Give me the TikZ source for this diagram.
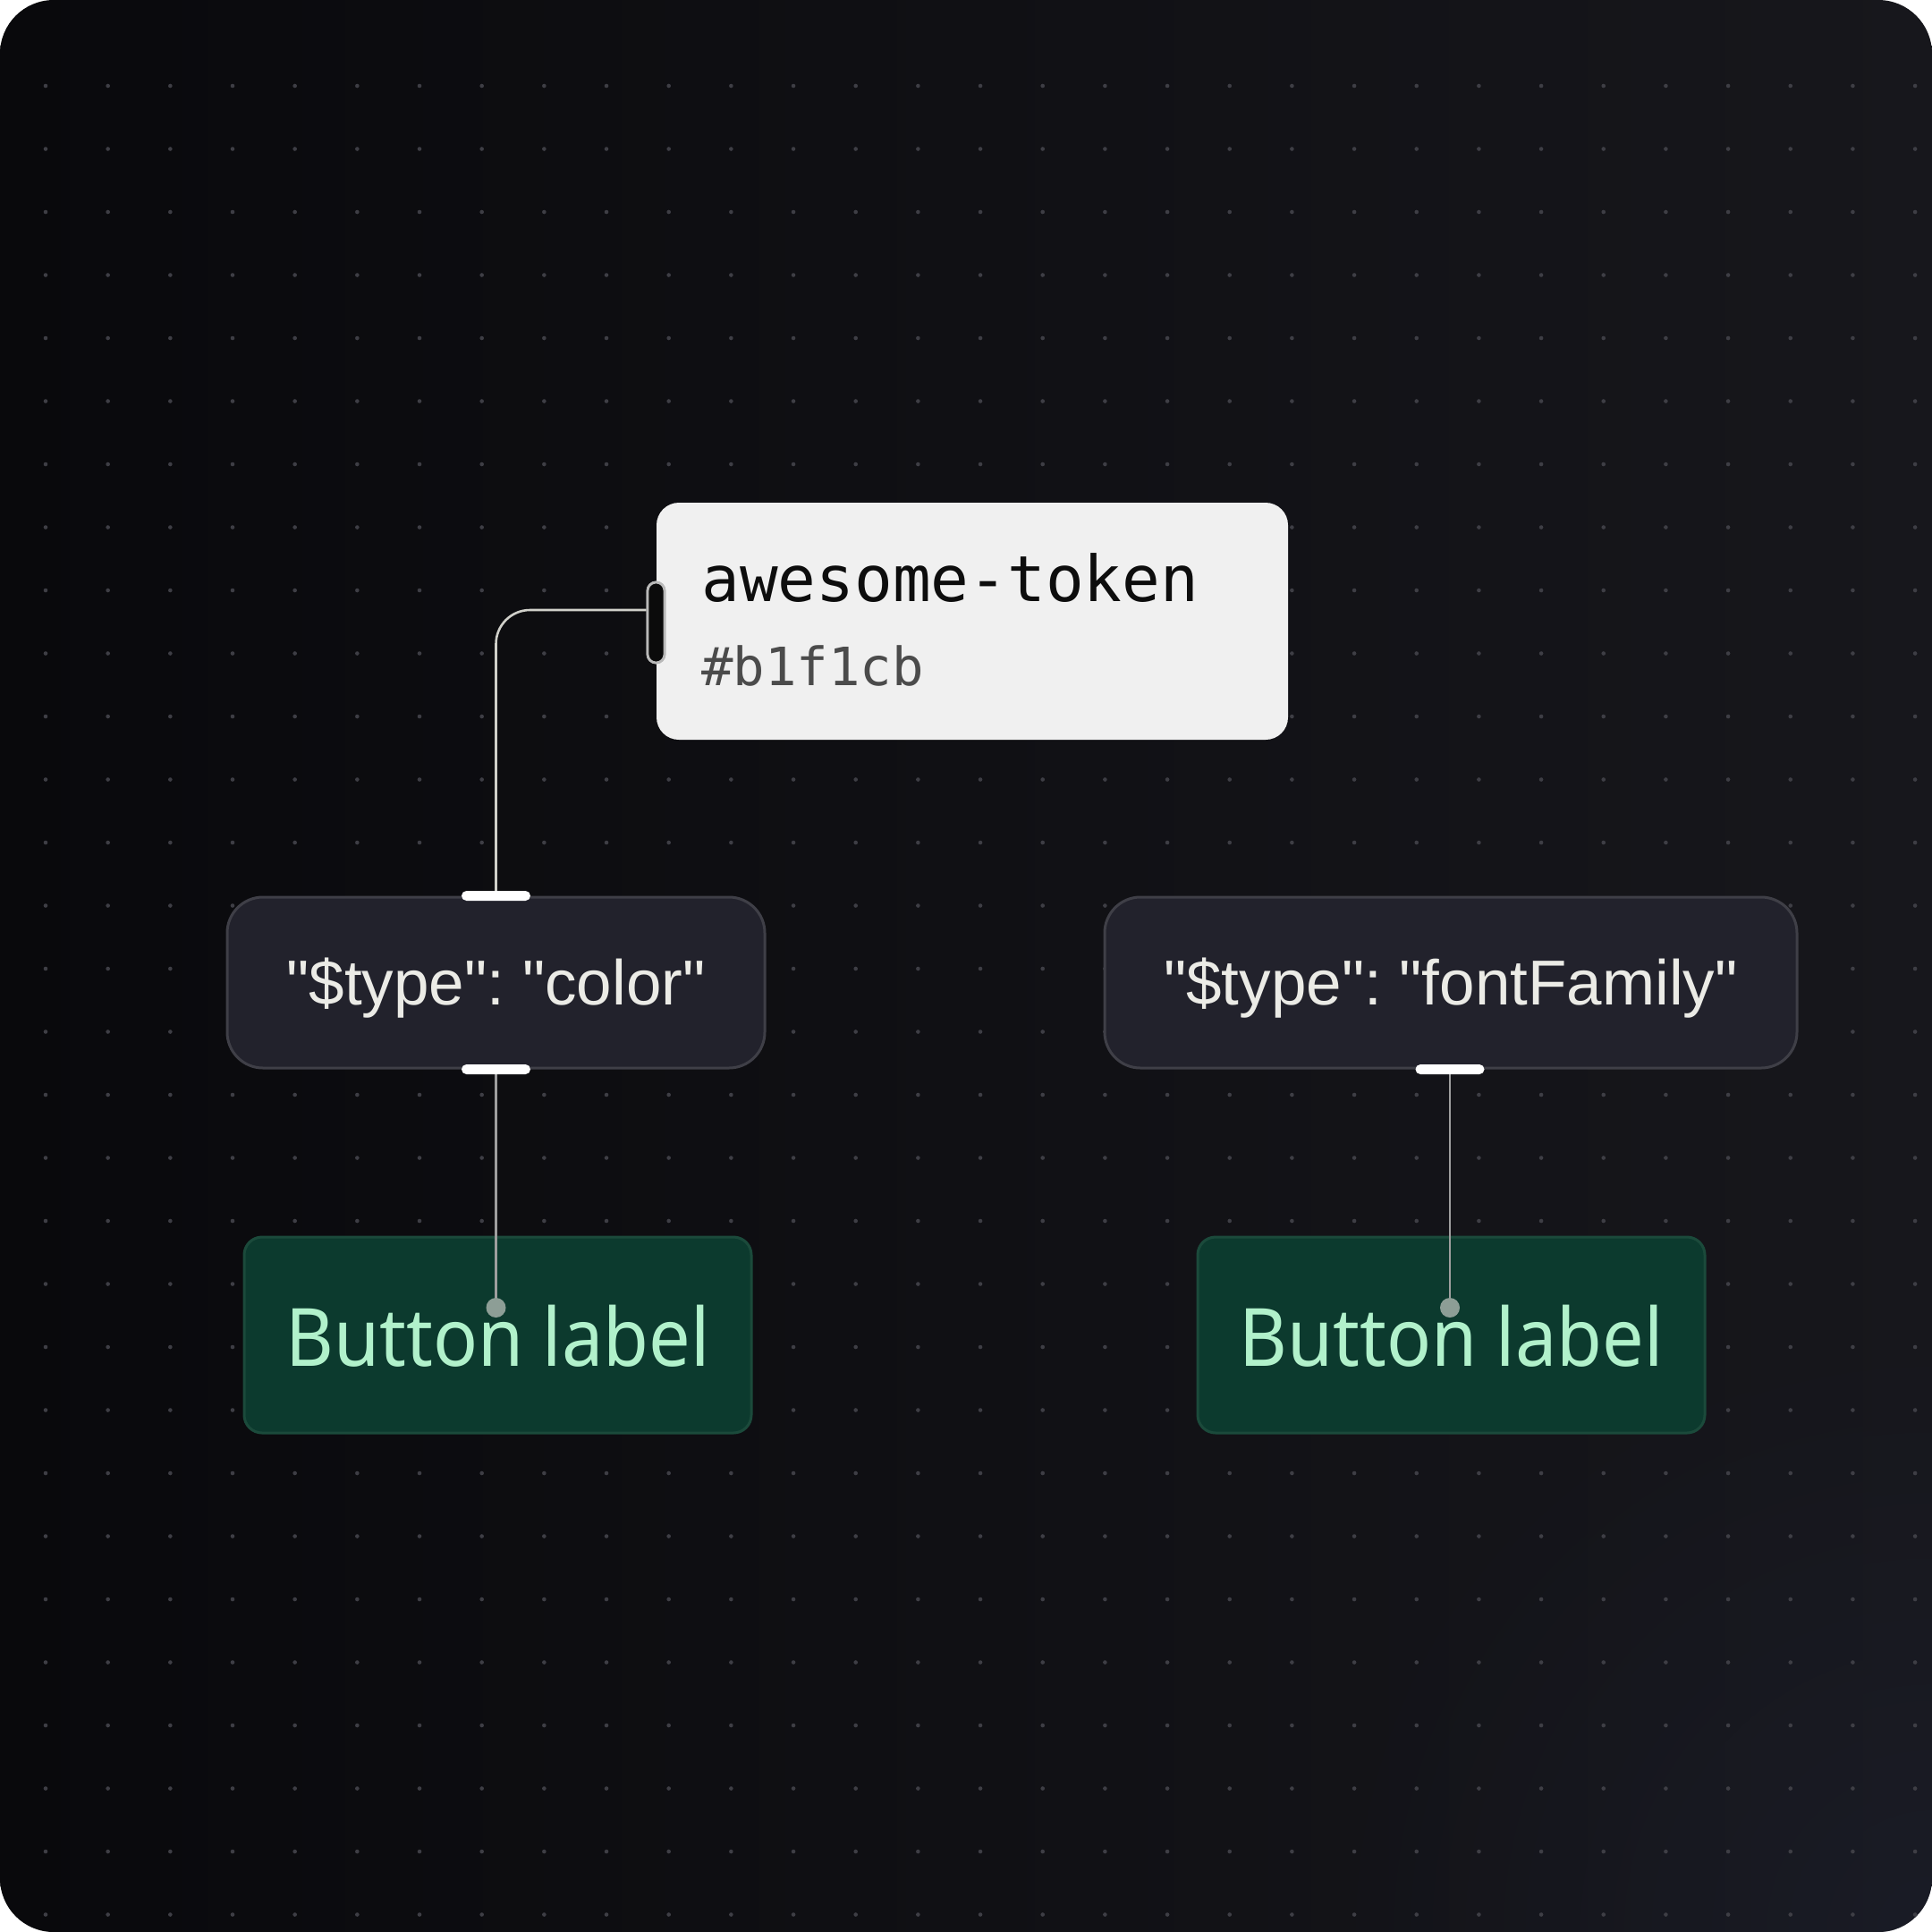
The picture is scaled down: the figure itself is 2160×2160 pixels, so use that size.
\documentclass[tikz,border=0pt]{standalone}
\usepackage{fontspec}
\setmainfont{Liberation Sans}
\newfontfamily\codefont{DejaVu Sans Mono}
\newfontfamily\btnfont{Noto Sans}[FakeStretch=0.92]
\usetikzlibrary{fadings}
\definecolor{bgA}{HTML}{09090C}
\definecolor{bgB}{HTML}{17171C}
\definecolor{bgC}{HTML}{1E2232}
\definecolor{dotgrid}{HTML}{3E3E45}
\definecolor{cardfill}{HTML}{F0F0F0}
\definecolor{cardtext}{HTML}{0D0D0D}
\definecolor{hashtext}{HTML}{4B4B4B}
\definecolor{portfill}{HTML}{0B0B0B}
\definecolor{portline}{HTML}{B9B9B9}
\definecolor{boxfill}{HTML}{22222C}
\definecolor{boxline}{HTML}{3F3F47}
\definecolor{labelc}{HTML}{EBEBE6}
\definecolor{gfill}{HTML}{0C3A2E}
\definecolor{gline}{HTML}{1B4A3B}
\definecolor{mint}{HTML}{B1F1CB}
\definecolor{wiretop}{HTML}{D0D0CA}
\definecolor{wirelow}{HTML}{9E9E9E}
\definecolor{dotc}{HTML}{8D9E96}
\tikzfading[name=glowfade, inner color=transparent!55, outer color=transparent!100]
\begin{document}
\frenchspacing
\begin{tikzpicture}[x=0.5pt,y=-0.5pt,
  typebox/.style={draw=boxline, fill=boxfill, line width=1.5pt, rounded corners=20pt, minimum height=95.5pt, inner sep=0pt},
  greenbox/.style={draw=gline, fill=gfill, line width=1.5pt, rounded corners=10pt, minimum width=283.5pt, minimum height=109.5pt, inner sep=0pt},
  bar/.style={fill=white, rounded corners=2.75pt, minimum width=38.5pt, minimum height=5.5pt, inner sep=0pt},
  pin/.style={circle, fill=dotc, minimum size=11pt, inner sep=0pt},
  portbox/.style={fill=portfill, draw=portline, line width=1.4pt, rounded corners=4.75pt, minimum width=9.5pt, minimum height=45pt, inner sep=0pt},
  wire/.style={line width=1.3pt},
  typelabel/.style={text=labelc, font=\fontsize{35.5}{40}\selectfont, anchor=base, inner sep=0pt},
  btnlabel/.style={text=mint, font=\btnfont\fontsize{45}{50}\selectfont, anchor=base, inner sep=0pt}]
\useasboundingbox (0,0) rectangle (2160,2160);
\fill[white] (0,0) rectangle (2160,2160);
\begin{scope}
  \clip[rounded corners=30pt] (0,0) rectangle (2160,2160);
  \shade[left color=bgA, right color=bgB] (0,0) rectangle (2160,2160);
  \fill[bgC, path fading=glowfade] (2160,2160) circle (700);
  \foreach \i in {0,...,30}
    \foreach \j in {0,...,29}
      \fill[dotgrid] ({51+69.67*\i},{96+70.5*\j}) circle (2.3);
\end{scope}

% token card
\node[fill=cardfill, rounded corners=12.5pt, minimum width=353pt, minimum height=132.5pt, inner sep=0pt] (card) at (1087,694.5) {};
\node[anchor=base west, inner sep=0pt, text=cardtext, font=\codefont\fontsize{35.5}{40}\selectfont] (tname) at (784,672) {awesome-token};
\node[anchor=base west, inner sep=0pt, text=hashtext, font=\codefont\fontsize{29.5}{34}\selectfont] (tval) at (784,766) {\#b1f1cb};

% type boxes
\node[typebox, minimum width=300.5pt] (cbox) at (554.5,1098.5) {};
\node[typelabel] (ctext) at (554.5,1123) {\textquotedbl\$type\textquotedbl: \textquotedbl color\textquotedbl};
\node[typebox, minimum width=387pt] (fbox) at (1622,1098.5) {};
\node[typelabel] (ftext) at (1622,1123) {\textquotedbl\$type\textquotedbl: \textquotedbl fontFamily\textquotedbl};

% green buttons
\node[greenbox] (gL) at (556.5,1492.5) {};
\node[btnlabel] (bL) at (556.5,1527) {Button label};
\node[greenbox] (gR) at (1622.5,1492.5) {};
\node[btnlabel] (bR) at (1622.5,1527) {Button label};

% port on card
\node[portbox] (port) at (733.5,696) {};

% connectors
\coordinate (dL) at (554.5,1462);
\coordinate (dR) at (1621,1462);
\draw[wire, draw=wiretop, rounded corners=19pt] ([yshift=7pt]port.west) -| (cbox.north);
\draw[wire, draw=wirelow] (cbox.south) -- (dL);
\draw[wire, draw=wirelow] (fbox.south -| dR) -- (dR);

% bars and pins
\node[bar] (cbarT) at (cbox.north) {};
\node[bar] (cbarB) at (cbox.south) {};
\node[bar] (fbarB) at (fbox.south -| dR) {};
\node[pin] (pinL) at (dL) {};
\node[pin] (pinR) at (dR) {};
\node[portbox] (port2) at (port) {};
\end{tikzpicture}
\end{document}
